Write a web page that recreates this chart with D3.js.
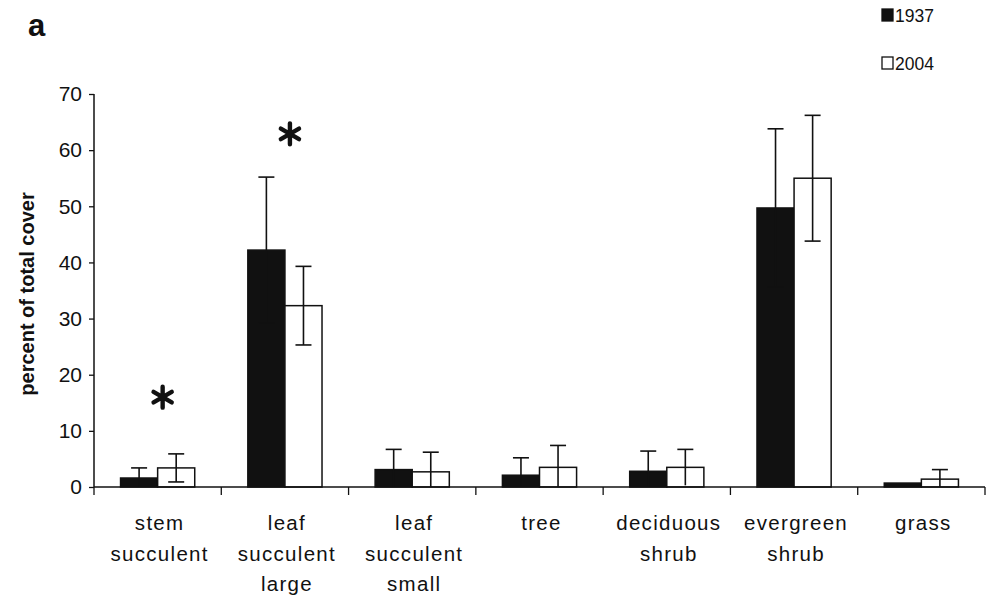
<!DOCTYPE html>
<meta charset="utf-8">
<script src="https://d3js.org/d3.v7.min.js"></script>
<style>
body { margin: 0; background: #fff; }
text { font-family: "Liberation Sans", Arial, sans-serif; fill: #111; }
</style>
<body>
<div id="chart"></div>
<script>

// data
var categories = [["stem", "succulent"], ["leaf", "succulent", "large"], ["leaf", "succulent", "small"],
                  ["tree"], ["deciduous", "shrub"], ["evergreen", "shrub"], ["grass"]];
var series = ["1937", "2004"];
var values1937 = [1.6, 42.2, 3.1, 2.1, 2.8, 49.7, 0.7];
var values2004 = [3.4, 32.3, 2.7, 3.5, 3.5, 55.0, 1.4];
var err1937 = [1.8, 13.0, 3.6, 3.1, 3.6, 14.1, 0];
var err2004 = [2.5, 7.0, 3.5, 3.9, 3.2, 11.2, 1.7];
// level (in % cover) of the significance star, null = none
var starLevel = [16, 62.9, null, null, null, null, null];
var yTicks = [0, 10, 20, 30, 40, 50, 60, 70];

var W = 996, H = 597;
var margin = {top: 94, right: 11, bottom: 110, left: 94};
var width = W - margin.left - margin.right,
    height = H - margin.top - margin.bottom;

var svg = d3.select("#chart").append("svg")
    .attr("width", W)
    .attr("height", H)
  .append("g")
    .attr("transform", "translate(" + margin.left + "," + margin.top + ")");

var keys = categories.map(function(c) { return c.join(" "); });

var x = d3.scaleBand().domain(keys).range([0, width]);
var xSub = d3.scaleBand().domain(series).range([0, x.bandwidth()]).paddingOuter(0.716);
var y = d3.scaleLinear().domain([0, 70]).range([height, 0]);

var rows = [];
keys.forEach(function(k, i) {
  rows.push({key: k, s: "1937", v: values1937[i], e: err1937[i]});
  rows.push({key: k, s: "2004", v: values2004[i], e: err2004[i]});
});

// bars
svg.selectAll("rect.bar")
  .data(rows)
  .enter().append("rect")
    .attr("class", "bar")
    .attr("x", function(d) { return x(d.key) + xSub(d.s); })
    .attr("width", xSub.bandwidth())
    .attr("y", function(d) { return y(d.v); })
    .attr("height", function(d) { return y(0) - y(d.v); })
    .attr("fill", function(d) { return d.s == "1937" ? "#111" : "#fff"; })
    .attr("stroke", "#111")
    .attr("stroke-width", 1.5);

// error bars
var cap = 8;
function cx(d) { return x(d.key) + xSub(d.s) + xSub.bandwidth() / 2; }
var eb = svg.selectAll("g.err")
  .data(rows.filter(function(d) { return d.e > 0; }))
  .enter().append("g")
    .attr("class", "err")
    .attr("stroke", "#111")
    .attr("stroke-width", 1.6);
eb.append("line")
    .attr("x1", cx).attr("x2", cx)
    .attr("y1", function(d) { return y(Math.max(0, d.v - d.e)); })
    .attr("y2", function(d) { return y(d.v + d.e); });
eb.append("line")
    .attr("x1", function(d) { return cx(d) - cap; })
    .attr("x2", function(d) { return cx(d) + cap; })
    .attr("y1", function(d) { return y(d.v + d.e); })
    .attr("y2", function(d) { return y(d.v + d.e); });
eb.filter(function(d) { return d.v - d.e > 0.3; }).append("line")
    .attr("x1", function(d) { return cx(d) - cap; })
    .attr("x2", function(d) { return cx(d) + cap; })
    .attr("y1", function(d) { return y(d.v - d.e); })
    .attr("y2", function(d) { return y(d.v - d.e); });

// significance stars (six-armed)
var starPath = d3.path();
[90, 30, -30].forEach(function(a) {
  var r = 10.5, t = a * Math.PI / 180;
  starPath.moveTo(-r * Math.cos(t), -r * Math.sin(t));
  starPath.lineTo(r * Math.cos(t), r * Math.sin(t));
});
svg.selectAll("path.star")
  .data(keys.filter(function(k, i) { return starLevel[i] != null; }))
  .enter().append("path")
    .attr("class", "star")
    .attr("transform", function(k) {
      return "translate(" + (x(k) + x.bandwidth() / 2 + 5) + "," + y(starLevel[keys.indexOf(k)]) + ")";
    })
    .attr("d", starPath.toString())
    .attr("fill", "none")
    .attr("stroke", "#111")
    .attr("stroke-width", 4.4)
    .attr("stroke-linecap", "round");

// y axis
var yAxis = svg.append("g")
    .call(d3.axisLeft(y).tickValues(yTicks).tickSize(5).tickPadding(7));
yAxis.select(".domain").attr("stroke", "#111").attr("stroke-width", 1.5).attr("d", "M0," + height + "V0");
yAxis.selectAll(".tick line").attr("stroke", "#111").attr("stroke-width", 1.3);
yAxis.selectAll(".tick text").style("font-size", "21px").attr("fill", "#111");

// x axis
var xAxis = svg.append("g")
    .attr("transform", "translate(0," + height + ")")
    .call(d3.axisBottom(x).tickSize(0).tickFormat(""));
xAxis.select(".domain").attr("stroke", "#111").attr("stroke-width", 1.5).attr("d", "M0,0H" + width);
xAxis.selectAll(".tick").remove();
xAxis.selectAll("line.sep")
  .data(d3.range(keys.length + 1))
  .enter().append("line")
    .attr("class", "sep")
    .attr("x1", function(i) { return i * x.step(); })
    .attr("x2", function(i) { return i * x.step(); })
    .attr("y1", 0).attr("y2", 8)
    .attr("stroke", "#111").attr("stroke-width", 1.3);

var labels = svg.selectAll("text.cat")
  .data(categories)
  .enter().append("text")
    .attr("class", "cat")
    .attr("text-anchor", "middle")
    .attr("x", function(c, i) { return x(keys[i]) + x.bandwidth() / 2 + 2; })
    .attr("y", 530 - margin.top)
    .style("font-size", "20.5px")
    .style("letter-spacing", "1.3px");
labels.selectAll("tspan")
  .data(function(c) { return c; })
  .enter().append("tspan")
    .attr("x", function() { return d3.select(this.parentNode).attr("x"); })
    .attr("dy", function(t, j) { return j == 0 ? 0 : 30.5; })
    .text(function(t) { return t; });

// y title
svg.append("text")
    .attr("transform", "rotate(-90)")
    .attr("x", -(294 - margin.top))
    .attr("y", -60)
    .attr("text-anchor", "middle")
    .style("font-size", "20px")
    .style("font-weight", "bold")
    .text("percent of total cover");

// panel letter
svg.append("text")
    .attr("x", 28 - margin.left)
    .attr("y", 36 - margin.top)
    .style("font-size", "31px")
    .style("font-weight", "bold")
    .text("a");

// legend
var legend = svg.selectAll("g.leg")
  .data(series)
  .enter().append("g")
    .attr("class", "leg")
    .attr("transform", function(s, i) { return "translate(" + (882 - margin.left) + "," + (9 + i * 48 - margin.top) + ")"; });
legend.append("rect")
    .attr("width", 11).attr("height", 12)
    .attr("fill", function(s) { return s == "1937" ? "#111" : "#fff"; })
    .attr("stroke", "#111").attr("stroke-width", 1.3);
legend.append("text")
    .attr("x", 13).attr("y", 12.5)
    .style("font-size", "17.5px")
    .text(function(s) { return s; });

</script>
</body>
